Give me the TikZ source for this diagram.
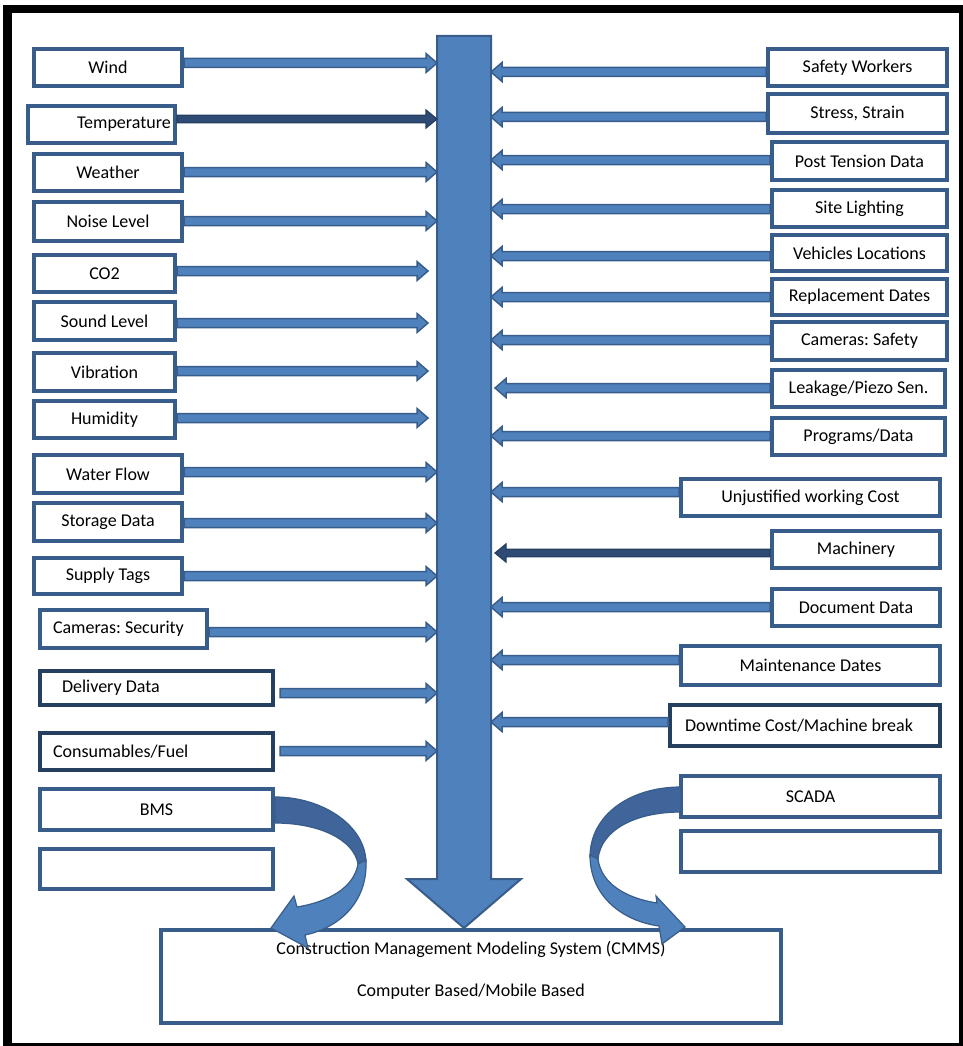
\documentclass[tikz,border=0pt]{standalone}
\usepackage{fontspec}
\setmainfont{Carlito}
\usetikzlibrary{calc}
\definecolor{bfill}{HTML}{4F81BD}
\definecolor{bline}{HTML}{385D8A}
\definecolor{bdark}{HTML}{243F60}
\definecolor{bcurve}{HTML}{3F659A}
\definecolor{athin}{HTML}{2E4B76}
\newcommand\bx[7][]{\node[box,minimum width={#5-#3-4},minimum height={#6-#4-4},#1] (#2) at ({(#3+#5)/2},{(#4+#6)/2}) {#7};}
\newcommand\lft[2]{\makebox[0pt][l]{\hspace*{#1}#2}}
\tikzset{
  harrowpath/.style n args={2}{to path={let \p1=(\tikztostart),\p2=(\tikztotarget),\n1={sign(\x2-\x1)} in
    (\x1,\y1+#1) -- (\x2-\n1*11pt,\y1+#1) -- (\x2-\n1*11pt,\y1+#2) -- (\x2,\y1)
    -- (\x2-\n1*11pt,\y1-#2) -- (\x2-\n1*11pt,\y1-#1) -- (\x1,\y1-#1) -- cycle}},
  harrow/.style={draw=bline,fill=bfill,line width=1.5pt,line join=miter,harrowpath={4.5pt}{9.5pt}},
  thinarrow/.style={draw=bdark,fill=athin,line width=1.2pt,line join=miter,harrowpath={3.8pt}{9pt}},
  box/.style={draw=bline,line width=4pt,fill=white,inner sep=0pt,rectangle,text=black,font=\fontsize{18}{21}\selectfont\frenchspacing},
  dbox/.style={draw=bdark},
  bigarrow/.style={draw=bline,fill=bfill,line width=2pt,line join=miter},
  curvedark/.style={draw=bline,fill=bcurve,line width=1.2pt},
  curvelight/.style={draw=bline,fill=bfill,line width=1.2pt,line join=miter},
}
\begin{document}
\begin{tikzpicture}[x=1pt,y=-1pt]
\useasboundingbox (0,0) rectangle (963,1046);
% frame
\fill[black] (3,5) rectangle (963,1046);
\fill[white] (12,13) rectangle (959,1043);

% left boxes
\bx{wind}{32}{47}{184}{88}{Wind}
\bx{temp}{26}{104}{177}{145}{\lft{-24.5pt}{Temperature}}
\bx{weather}{32}{152}{184}{193}{Weather}
\bx{noise}{32}{200}{184}{243}{Noise Level}
\bx{co2}{32}{253}{177}{294}{CO2}
\bx{sound}{32}{300}{177}{342}{Sound Level}
\bx{vib}{32}{351}{177}{393}{Vibration}
\bx{hum}{32}{399}{177}{440}{Humidity}
\bx{water}{32}{453}{184}{495}{Water Flow}
\bx{storage}{32}{501}{184}{543}{Storage Data}
\bx{supply}{32}{556}{184}{596}{Supply Tags}
\bx{camsec}{38}{608}{209}{650}{\lft{-70.5pt}{Cameras: Security}}
\bx[dbox]{deliv}{38}{669}{275}{707}{\lft{-94.5pt}{Delivery Data}}
\bx[dbox]{fuel}{38}{731}{275}{772}{\lft{-103.5pt}{Consumables/Fuel}}
\bx{bms}{38}{787}{275}{832}{BMS}
\bx{lempty}{38}{847}{275}{891}{}

% right boxes
\bx{safety}{766}{47}{949}{88}{Safety Workers}
\bx{stress}{766}{92}{949}{135}{Stress, Strain}
\bx{post}{770}{140}{949}{182}{Post Tension Data}
\bx{site}{770}{188}{949}{229}{Site Lighting}
\bx{vehicles}{770}{233}{949}{273}{Vehicles Locations}
\bx{replace}{770}{277}{949}{317}{Replacement Dates}
\bx{camsafe}{770}{320}{949}{362}{Cameras: Safety}
\bx{leak}{770}{368}{947}{409}{Leakage/Piezo Sen.}
\bx{prog}{770}{416}{947}{457}{Programs/Data}
\bx{unjust}{679}{477}{942}{518}{Unjustified working Cost}
\bx{mach}{770}{529}{942}{570}{Machinery}
\bx{doc}{770}{587}{942}{628}{Document Data}
\bx{maint}{679}{644}{942}{687}{Maintenance Dates}
\bx[dbox]{down}{668}{703}{942}{748}{\lft{-120pt}{Downtime Cost/Machine break}}
\bx{scada}{679}{774}{942}{819}{SCADA}
\bx{rempty}{679}{829}{942}{874}{}

% bottom box
\bx{cmms}{159}{928}{783}{1025}{\raisebox{1pt}[0pt][0pt]{\begin{tabular}{@{}c@{}}Construction Management Modeling System (CMMS)\\[21pt]Computer Based/Mobile Based\end{tabular}}}

% central arrow
\coordinate (sL) at (437,0);
\coordinate (sR) at (491,0);
\coordinate (tB) at (428,0);
\coordinate (tR) at (495,0);
\draw[bigarrow] (437,36) -- (491,36) -- (491,879) -- (521,879) -- (464,928) -- (407,879) -- (437,879) -- cycle;

% left arrows
\draw[harrow] (wind.east |- 0,63) to (sL |- 0,63);
\draw[thinarrow] (temp.east |- 0,119) to (sL |- 0,119);
\draw[harrow] (weather.east |- 0,172) to (sL |- 0,172);
\draw[harrow] (noise.east |- 0,221) to (sL |- 0,221);
\draw[harrow] (co2.east |- 0,271) to (tB |- 0,271);
\draw[harrow] (sound.east |- 0,323) to (tB |- 0,323);
\draw[harrow] (vib.east |- 0,371) to (tB |- 0,371);
\draw[harrow] (hum.east |- 0,418) to (tB |- 0,418);
\draw[harrow] (water.east |- 0,472) to (sL |- 0,472);
\draw[harrow] (storage.east |- 0,523) to (sL |- 0,523);
\draw[harrow] (supply.east |- 0,576) to (sL |- 0,576);
\draw[harrow] (camsec.east |- 0,632) to (sL |- 0,632);
\path ([xshift=5pt]deliv.east) coordinate (dS);
\path ([xshift=5pt]fuel.east) coordinate (fS);
\draw[harrow] (dS |- 0,693) to (sL |- 0,693);
\draw[harrow] (fS |- 0,751) to (sL |- 0,751);

% right arrows
\draw[harrow] (safety.west |- 0,72) to (sR |- 0,72);
\draw[harrow] (stress.west |- 0,117) to (sR |- 0,117);
\draw[harrow] (post.west |- 0,160) to (sR |- 0,160);
\draw[harrow] (site.west |- 0,209) to (sR |- 0,209);
\draw[harrow] (vehicles.west |- 0,256) to (sR |- 0,256);
\draw[harrow] (replace.west |- 0,297) to (sR |- 0,297);
\draw[harrow] (camsafe.west |- 0,340) to (sR |- 0,340);
\draw[harrow] (leak.west |- 0,388) to (tR |- 0,388);
\draw[harrow] (prog.west |- 0,436) to (sR |- 0,436);
\draw[harrow] (unjust.west |- 0,492) to (sR |- 0,492);
\draw[thinarrow] (mach.west |- 0,553) to (tR |- 0,553);
\draw[harrow] (doc.west |- 0,607) to (sR |- 0,607);
\draw[harrow] (maint.west |- 0,660) to (sR |- 0,660);
\draw[harrow] (down.west |- 0,722) to (sR |- 0,722);

% BMS curved arrow
\draw[curvedark] (275,797) .. controls (322,797) and (365,825) .. (366,862)
  -- (358,864) .. controls (354,840) and (320,823) .. (275,823) -- cycle;
\draw[curvelight] (366,860) .. controls (368,903) and (338,928) .. (305,935)
  -- (308,948) -- (271,928) -- (294,896) -- (297,907)
  .. controls (328,902) and (354,888) .. (358,864) -- cycle;

% SCADA curved arrow
\draw[curvedark] (681,787) .. controls (630,787) and (590,815) .. (590,857)
  -- (598,859) .. controls (601,830) and (635,812) .. (681,812) -- cycle;
\draw[curvelight] (590,855) .. controls (590,897) and (623,921) .. (659,926)
  -- (662,944) -- (685,927) -- (656,896) -- (657,903)
  .. controls (625,898) and (601,883) .. (598,859) -- cycle;
\end{tikzpicture}
\end{document}
